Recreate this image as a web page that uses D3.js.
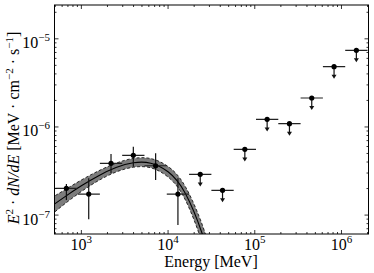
<!DOCTYPE html>
<html>
<head>
<meta charset="utf-8">
<script src="https://cdn.jsdelivr.net/npm/d3@7"></script>
<style>
  body { margin: 0; background: #fff; }
</style>
</head>
<body>
<svg></svg>
<script>
const width = 374;
const height = 273;
const margin = {left: 54.5, right: 5.5, top: 5, bottom: 39};
const serif = "'Liberation Serif', 'Times New Roman', 'DejaVu Serif', serif";

// energy bins [MeV]
const eLow    = [500, 904, 1635, 2956, 5345, 9665, 17476, 31600, 57140, 103320, 186820, 337800, 610800, 1104500];
const eHigh   = [904, 1635, 2956, 5345, 9665, 17476, 31600, 57140, 103320, 186820, 337800, 610800, 1104500, 1997000];
const eCenter = [672, 1216, 2198, 3975, 7187, 12996, 23496, 42484, 76820, 138900, 251200, 454200, 821300, 1485000];

// E^2 dN/dE [MeV cm^-2 s^-1]
const flux    = [2.01e-7, 1.73e-7, 3.87e-7, 4.76e-7, 3.63e-7, 1.73e-7, 2.90e-7, 1.91e-7, 5.57e-7, 1.22e-6, 1.09e-6, 2.13e-6, 4.83e-6, 7.41e-6];
const fluxHi  = [2.25e-7, 2.61e-7, 4.93e-7, 5.96e-7, 5.02e-7, 2.61e-7, null, null, null, null, null, null, null, null];
const fluxLo  = [1.48e-7, 8.94e-8, 2.98e-7, 3.54e-7, 2.50e-7, 7.70e-8, null, null, null, null, null, null, null, null];
const isLimit = [false, false, false, false, false, false, true, true, true, true, true, true, true, true];

// model band
const bandE   = [447, 631, 1000, 1585, 2512, 3981, 6310, 10000, 15849, 25119, 31623];
const bandMid = [1.25e-7, 1.59e-7, 2.15e-7, 2.80e-7, 3.46e-7, 3.92e-7, 3.88e-7, 3.10e-7, 1.76e-7, 5.90e-8, 2.55e-8];
const bandHi  = [1.56e-7, 1.91e-7, 2.50e-7, 3.18e-7, 3.88e-7, 4.40e-7, 4.38e-7, 3.56e-7, 2.10e-7, 7.50e-8, 3.40e-8];
const bandLo  = [1.00e-7, 1.32e-7, 1.85e-7, 2.47e-7, 3.08e-7, 3.49e-7, 3.44e-7, 2.70e-7, 1.48e-7, 4.60e-8, 1.90e-8];

const xTickLabels = [{v: 1e3, p: "3"}, {v: 1e4, p: "4"}, {v: 1e5, p: "5"}, {v: 1e6, p: "6"}];
const yTickLabels = [{v: 1e-7, p: "\u22127"}, {v: 1e-6, p: "\u22126"}, {v: 1e-5, p: "\u22125"}];

const limitFrac = 0.73;

const x = d3.scaleLog()
  .domain([490, 2.05e6])
  .range([margin.left, width - margin.right]);

const y = d3.scaleLog()
  .domain([6.1e-8, 2.42e-5])
  .range([height - margin.bottom, margin.top]);

const svg = d3.select("svg")
  .attr("width", width)
  .attr("height", height)
  .attr("font-family", serif);

svg.append("clipPath")
    .attr("id", "plotClip")
  .append("rect")
    .attr("x", margin.left)
    .attr("y", margin.top)
    .attr("width", width - margin.left - margin.right)
    .attr("height", height - margin.top - margin.bottom);

const plot = svg.append("g").attr("clip-path", "url(#plotClip)");

// model band
const bandRows = bandE.map(function (e, i) {
  return {e: e, mid: bandMid[i], hi: bandHi[i], lo: bandLo[i]};
});

plot.append("path")
  .datum(bandRows)
  .attr("d", d3.area()
    .x(function (d) { return x(d.e); })
    .y0(function (d) { return y(d.lo); })
    .y1(function (d) { return y(d.hi); })
    .curve(d3.curveNatural))
  .attr("fill", "#7c7c7c");

["lo", "hi"].forEach(function (key) {
  plot.append("path")
    .datum(bandRows)
    .attr("d", d3.line()
      .x(function (d) { return x(d.e); })
      .y(function (d) { return y(d[key]); })
      .curve(d3.curveNatural))
    .attr("fill", "none")
    .attr("stroke", "#000")
    .attr("stroke-width", 0.8)
    .attr("stroke-dasharray", "3,2");
});

plot.append("path")
  .datum(bandRows)
  .attr("d", d3.line()
    .x(function (d) { return x(d.e); })
    .y(function (d) { return y(d.mid); })
    .curve(d3.curveNatural))
  .attr("fill", "none")
  .attr("stroke", "#000")
  .attr("stroke-width", 1.1);

// data points
const points = eCenter.map(function (e, i) {
  return {e: e, lo: eLow[i], hi: eHigh[i], f: flux[i], fHi: fluxHi[i], fLo: fluxLo[i], ul: isLimit[i]};
});

const pt = plot.selectAll(".pt")
  .data(points)
  .enter().append("g")
    .attr("class", "pt");

pt.append("line")
  .attr("x1", function (d) { return x(d.lo); })
  .attr("x2", function (d) { return x(d.hi); })
  .attr("y1", function (d) { return y(d.f); })
  .attr("y2", function (d) { return y(d.f); })
  .attr("stroke", "#222")
  .attr("stroke-width", 1.2);

pt.filter(function (d) { return !d.ul; }).append("line")
  .attr("x1", function (d) { return x(d.e); })
  .attr("x2", function (d) { return x(d.e); })
  .attr("y1", function (d) { return y(d.fHi); })
  .attr("y2", function (d) { return y(d.fLo); })
  .attr("stroke", "#111")
  .attr("stroke-width", 1.2);

const ul = pt.filter(function (d) { return d.ul; });

ul.append("line")
  .attr("x1", function (d) { return x(d.e); })
  .attr("x2", function (d) { return x(d.e); })
  .attr("y1", function (d) { return y(d.f); })
  .attr("y2", function (d) { return y(d.f * limitFrac) - 3; })
  .attr("stroke", "#111")
  .attr("stroke-width", 1.2);

ul.append("path")
  .attr("d", function (d) {
    const cx = x(d.e), cy = y(d.f * limitFrac);
    return "M" + (cx - 2.5) + "," + (cy - 4) + "L" + (cx + 2.5) + "," + (cy - 4) + "L" + cx + "," + cy + "Z";
  })
  .attr("fill", "#111");

pt.append("circle")
  .attr("cx", function (d) { return x(d.e); })
  .attr("cy", function (d) { return y(d.f); })
  .attr("r", 2.6)
  .attr("fill", "#000");

// ticks, all four sides, pointing inwards
const xAll = x.ticks();
const yAll = y.ticks();
function isMajor(v) { return Math.abs(Math.log10(v) - Math.round(Math.log10(v))) < 1e-6; }

const tickG = svg.append("g").attr("stroke", "#000").attr("stroke-width", 0.8);
const x0 = margin.left, x1 = width - margin.right;
const y0 = height - margin.bottom, y1 = margin.top;

xAll.filter(function (v) { return v >= x.domain()[0] && v <= x.domain()[1]; }).forEach(function (v) {
  const len = isMajor(v) ? 4 : 2;
  tickG.append("line").attr("x1", x(v)).attr("x2", x(v)).attr("y1", y0).attr("y2", y0 - len);
  tickG.append("line").attr("x1", x(v)).attr("x2", x(v)).attr("y1", y1).attr("y2", y1 + len);
});
yAll.filter(function (v) { return v >= y.domain()[0] && v <= y.domain()[1]; }).forEach(function (v) {
  const len = isMajor(v) ? 4 : 2;
  tickG.append("line").attr("y1", y(v)).attr("y2", y(v)).attr("x1", x0).attr("x2", x0 + len);
  tickG.append("line").attr("y1", y(v)).attr("y2", y(v)).attr("x1", x1).attr("x2", x1 - len);
});

svg.append("rect")
  .attr("x", x0)
  .attr("y", y1)
  .attr("width", x1 - x0)
  .attr("height", y0 - y1)
  .attr("fill", "none")
  .attr("stroke", "#000")
  .attr("stroke-width", 1);

// tick labels
const xl = svg.selectAll(".xl")
  .data(xTickLabels)
  .enter().append("text")
    .attr("class", "xl")
    .attr("x", function (d) { return x(d.v); })
    .attr("y", 249.5)
    .attr("text-anchor", "middle")
    .attr("font-size", 16);
xl.append("tspan").text("10");
xl.append("tspan").attr("dy", -7).attr("font-size", 11).text(function (d) { return d.p; });

const yl = svg.selectAll(".yl")
  .data(yTickLabels)
  .enter().append("text")
    .attr("class", "yl")
    .attr("x", 50)
    .attr("y", function (d) { return y(d.v) + 9.5; })
    .attr("text-anchor", "end")
    .attr("font-size", 16);
yl.append("tspan").text("10");
yl.append("tspan").attr("dy", -7).attr("font-size", 11).text(function (d) { return d.p; });

// axis titles
svg.append("text")
  .attr("x", 211)
  .attr("y", 266.5)
  .attr("text-anchor", "middle")
  .attr("font-size", 16)
  .text("Energy [MeV]");

const ylab = svg.append("text")
  .attr("transform", "translate(19,128) rotate(-90)")
  .attr("text-anchor", "middle")
  .attr("font-size", 16);
ylab.append("tspan").attr("font-style", "italic").text("E");
ylab.append("tspan").attr("dy", -6).attr("font-size", 11).text("2");
ylab.append("tspan").attr("dy", 6).text(" \u00b7 ");
ylab.append("tspan").attr("font-style", "italic").text("dN");
ylab.append("tspan").attr("font-style", "italic").text("/");
ylab.append("tspan").attr("font-style", "italic").text("dE");
ylab.append("tspan").text("  [MeV \u00b7 cm");
ylab.append("tspan").attr("dy", -6).attr("font-size", 11).text("\u22122");
ylab.append("tspan").attr("dy", 6).text(" \u00b7 s");
ylab.append("tspan").attr("dy", -6).attr("font-size", 11).text("\u22121");
ylab.append("tspan").attr("dy", 6).text("]");
</script>
</body>
</html>
